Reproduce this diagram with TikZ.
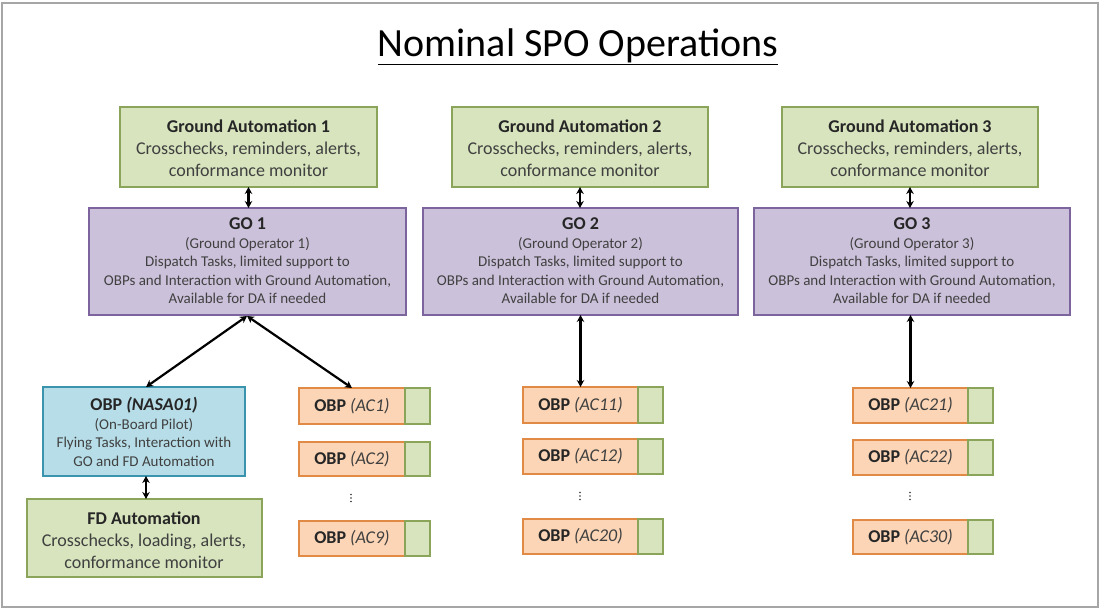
\documentclass[tikz,border=0pt]{standalone}
\usepackage{fontspec}
\setmainfont{Carlito}
\usetikzlibrary{arrows.meta}
\definecolor{gafill}{HTML}{D7E4BD}
\definecolor{gadraw}{HTML}{8AA55A}
\definecolor{gofill}{HTML}{CCC1DA}
\definecolor{godraw}{HTML}{7E649E}
\definecolor{bfill}{HTML}{B7DEE8}
\definecolor{bdraw}{HTML}{3B94AE}
\definecolor{ofill}{HTML}{FBD5B5}
\definecolor{odraw}{HTML}{E08A46}
\definecolor{txt}{HTML}{404040}
\tikzset{
  box/.style={draw, line width=1.2pt, inner sep=0pt, text=txt, align=center},
  gabox/.style={box, fill=gafill, draw=gadraw},
  gobox/.style={box, fill=gofill, draw=godraw},
  bbox/.style={box, fill=bfill, draw=bdraw},
  obox/.style={box, fill=ofill, draw=odraw},
  sbox/.style={box, fill=gafill, draw=gadraw},
  dbl/.style={{Stealth[length=7pt,width=7.5pt]}-{Stealth[length=7pt,width=7.5pt]}, line width=2.2pt, black},
  big/.style={font=\fontsize{18}{22}\selectfont, align=center, inner sep=0pt},
  small/.style={font=\fontsize{15}{18.5}\selectfont, align=center, inner sep=0pt},
  dot/.style={fill=black!80, circle, inner sep=0pt, minimum size=1.6pt},
}
\newcommand{\hd}[1]{\textbf{\color{black!85}#1}}
\begin{document}
\begin{tikzpicture}[x=1pt,y=-1pt]
\useasboundingbox (0,0) rectangle (1105,609);
\draw[gray!70, line width=1.2pt] (2,3) rectangle (1098,607);
\node[font=\fontsize{40}{44}\selectfont, inner sep=0pt] (title) at (578,47) {\underline{Nominal SPO Operations}};
% Ground automation
\foreach \i/\l/\r in {1/120/377, 2/452/708, 3/782/1038}{
  \path[gabox] (\l,107) rectangle (\r,187);
  \node[big, text=txt] (ga\i) at ({(\l+\r)/2},148) {\hd{Ground Automation \i}\\Crosschecks, reminders, alerts,\\conformance monitor};
  \coordinate (gab\i) at ({(\l+\r)/2},187);
}
% GO boxes
\foreach \i/\l/\r in {1/89/406, 2/423/738, 3/754/1070}{
  \path[gobox] (\l,208) rectangle (\r,315);
  \node[small, text=txt] (go\i) at ({(\l+\r)/2},261) {\hd{\fontsize{18}{18}\selectfont GO \i}\\(Ground Operator \i)\\Dispatch Tasks, limited support to\\OBPs and Interaction with Ground Automation,\\Available for DA if needed};
  \coordinate (got\i) at ({(\l+\r)/2},208);
  \coordinate (gob\i) at ({(\l+\r)/2},315);
}
\draw[dbl] (gab1) -- (gab1 |- got1);
\draw[dbl] (gab2) -- (gab2 |- got2);
\draw[dbl] (gab3) -- (gab3 |- got3);
% NASA01
\path[bbox] (43,387) rectangle (245,476);
\node[small, text=txt] (nasa) at (144,432) {\hd{\fontsize{18}{18}\selectfont OBP \textit{(NASA01)}}\\(On-Board Pilot)\\Flying Tasks, Interaction with\\GO and FD Automation};
\coordinate (nasat) at (146,387);
\coordinate (nasab) at (146,476);
\path[gabox] (27,499) rectangle (262,577);
\node[big, text=txt] (fd) at (144,540) {\hd{FD Automation}\\Crosschecks, loading, alerts,\\conformance monitor};
\coordinate (fdt) at (146,499);
\draw[dbl] (nasab) -- (fdt);
% OBP small boxes
\foreach \n/\l/\m/\r/\t/\b/\lab in {
  a1/299/405/430/388/424/AC1, a2/299/405/430/442/476/AC2, a9/299/405/430/521/556/AC9,
  b1/523/638/663/387/423/AC11, b2/523/638/663/439/474/AC12, b9/523/638/663/519/554/AC20,
  c1/853/968/993/388/423/AC21, c2/853/968/993/440/475/AC22, c9/853/968/993/520/554/AC30}{
  \path[obox] (\l,\t) rectangle (\m,\b);
  \path[sbox] (\m,\t) rectangle (\r,\b);
  \node[font=\fontsize{18}{20}\selectfont, text=txt, inner sep=0pt] (o\n) at ({(\l+\m)/2},{(\t+\b)/2}) {\hd{OBP} \textit{(\lab)}};
  \coordinate (t\n) at ({(\l+\m)/2},\t);
}
% vertical ellipses
\foreach \x/\y in {351/498, 580/496, 910/496}{
  \node[dot] at (\x,\y-3.5) {};
  \node[dot] at (\x,\y) {};
  \node[dot] at (\x,\y+3.5) {};
}
% GO arrows
\coordinate (g1) at (247,316);
\coordinate (ta1x) at (352,388);
\draw[dbl] (g1) -- (nasat);
\draw[dbl] (g1) -- (ta1x);
\draw[dbl] (tb1 |- gob2) -- (tb1);
\draw[dbl] (tc1 |- gob3) -- (tc1);
\end{tikzpicture}
\end{document}
